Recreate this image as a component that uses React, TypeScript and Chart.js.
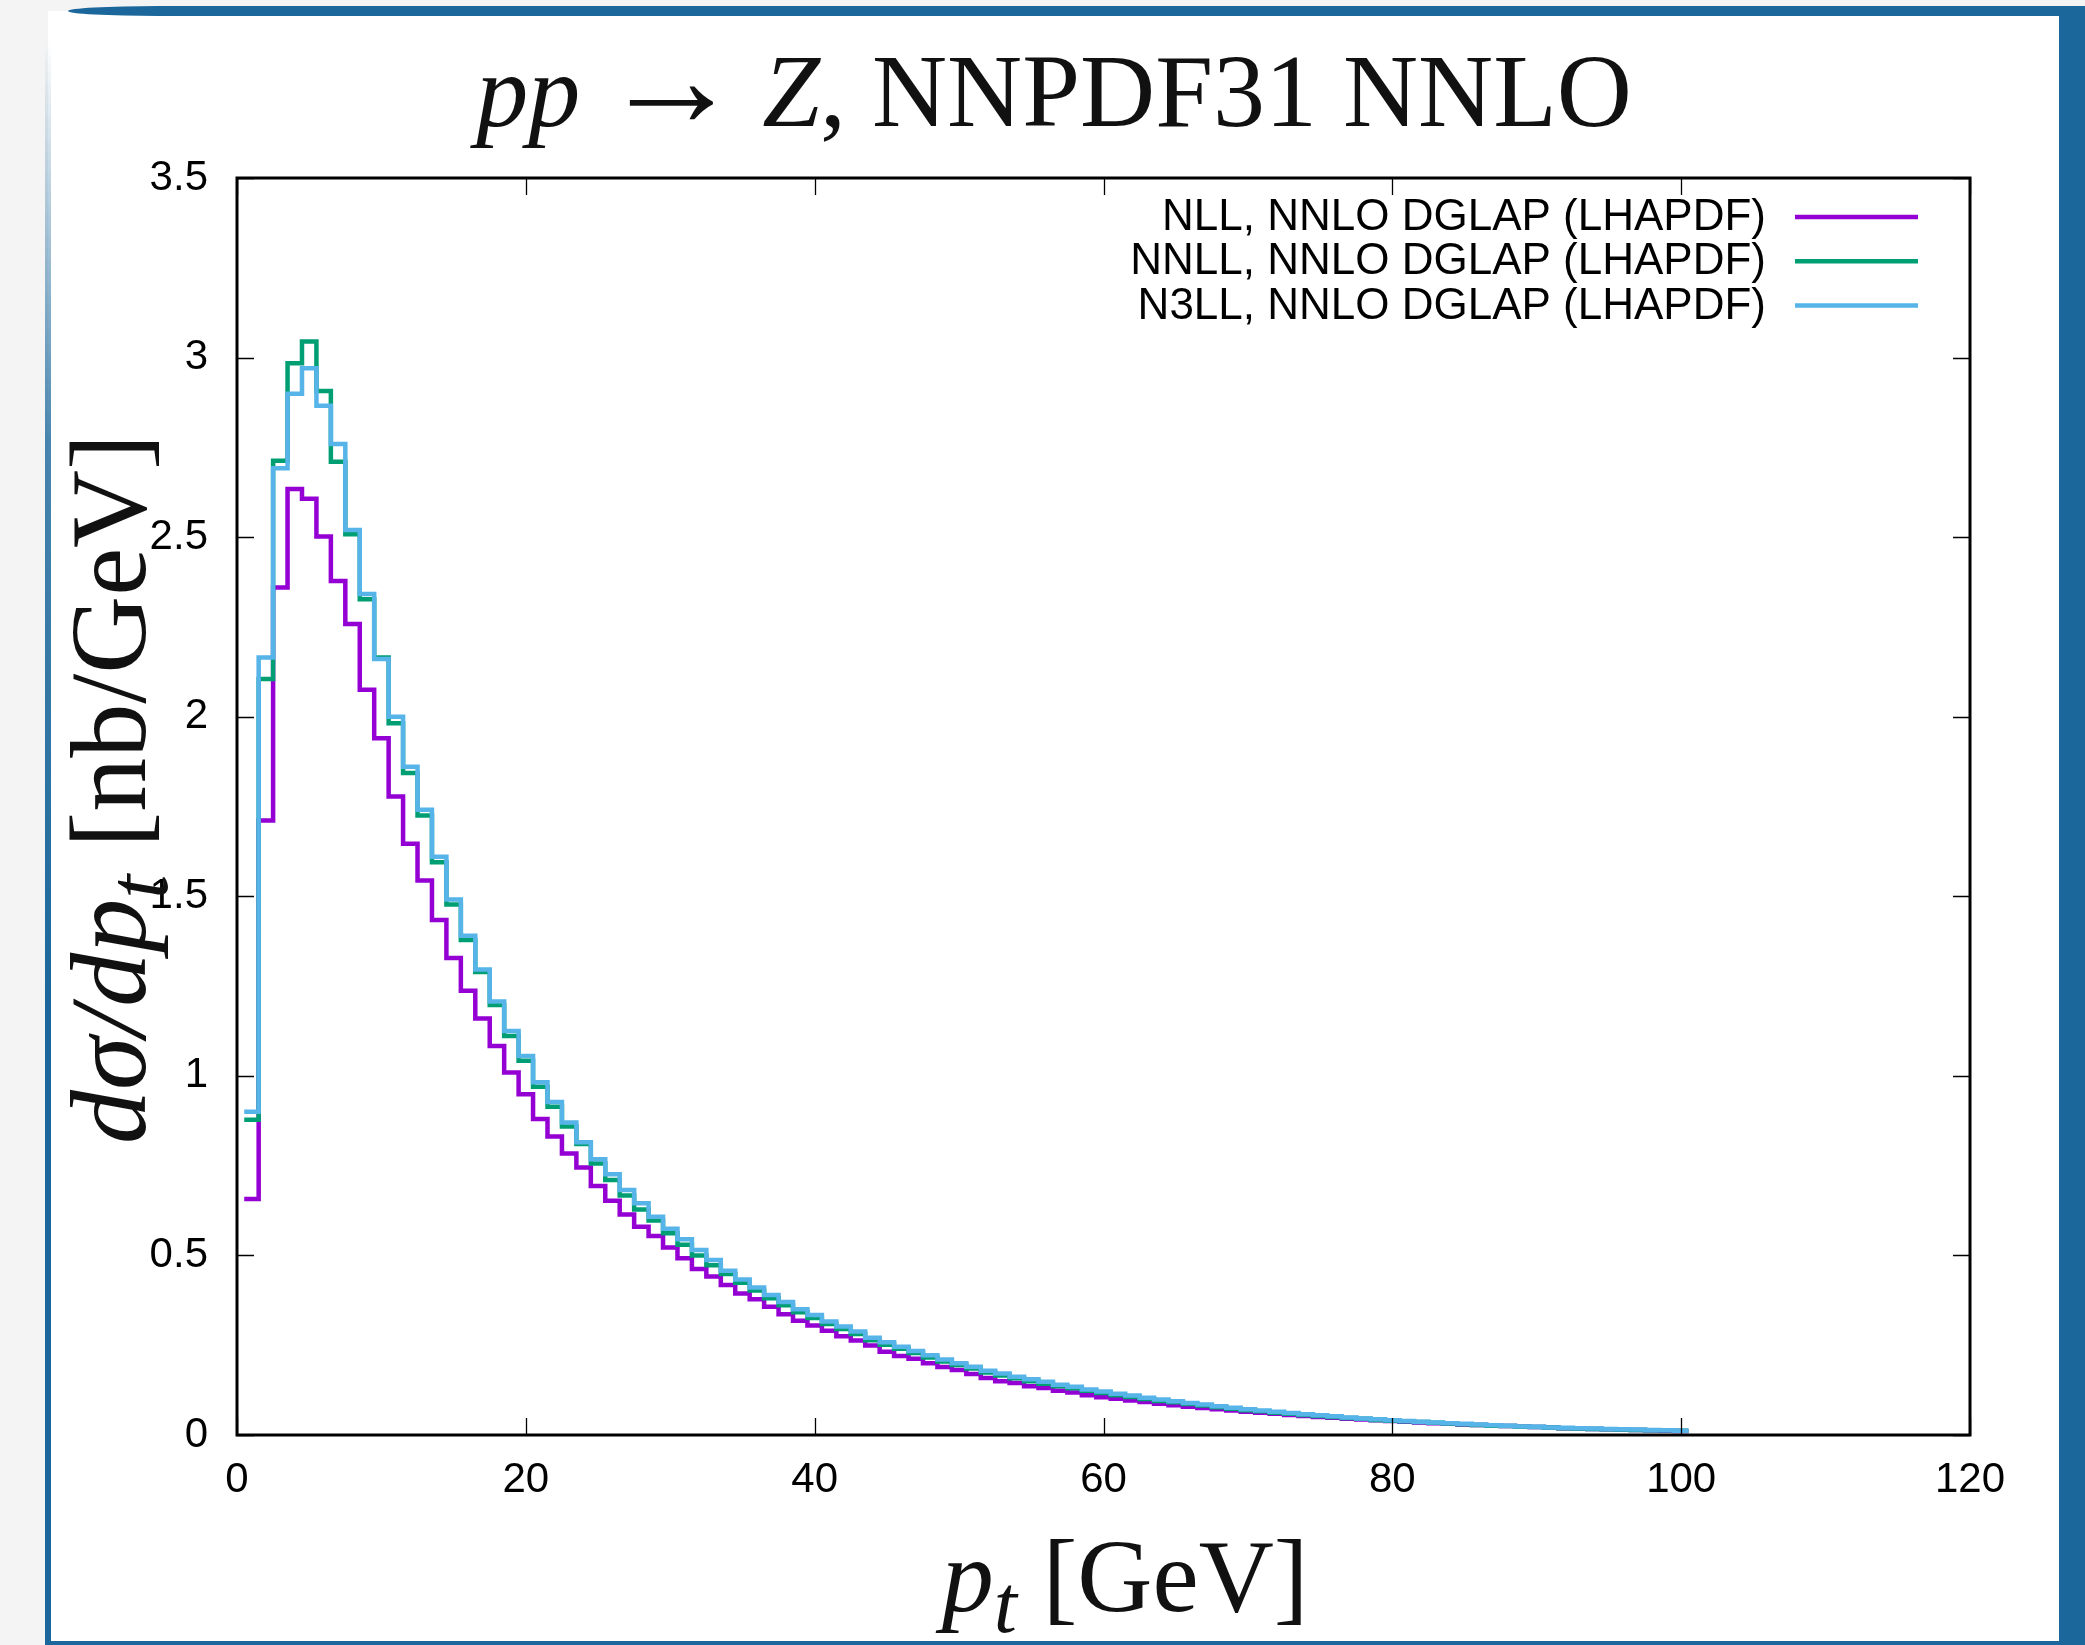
import React, { useEffect, useRef } from "react";
import { Chart, registerables } from "chart.js";

Chart.register(...registerables);

const W = 2085;
const H = 1645;

// p_t bin centres [GeV], bin width 1 GeV
const ptBins = [
  1, 2, 3, 4, 5, 6, 7, 8, 9, 10, 11, 12, 13, 14, 15, 16, 17, 18, 19, 20,
  21, 22, 23, 24, 25, 26, 27, 28, 29, 30, 31, 32, 33, 34, 35, 36, 37, 38, 39, 40,
  41, 42, 43, 44, 45, 46, 47, 48, 49, 50, 51, 52, 53, 54, 55, 56, 57, 58, 59, 60,
  61, 62, 63, 64, 65, 66, 67, 68, 69, 70, 71, 72, 73, 74, 75, 76, 77, 78, 79, 80,
  81, 82, 83, 84, 85, 86, 87, 88, 89, 90, 91, 92, 93, 94, 95, 96, 97, 98, 99, 100,
];
const binWidth = 1;

const nllValues = [
  0.657, 1.711, 2.36, 2.634, 2.607, 2.502, 2.378, 2.258, 2.075, 1.94,
  1.778, 1.646, 1.544, 1.434, 1.328, 1.237, 1.16, 1.083, 1.009, 0.949,
  0.88, 0.831, 0.784, 0.745, 0.693, 0.652, 0.614, 0.58, 0.554, 0.522,
  0.492, 0.462, 0.441, 0.418, 0.394, 0.378, 0.357, 0.336, 0.318, 0.305,
  0.29, 0.275, 0.263, 0.249, 0.232, 0.22, 0.212, 0.2, 0.189, 0.181,
  0.17, 0.159, 0.15, 0.145, 0.136, 0.131, 0.123, 0.118, 0.111, 0.105,
  0.101, 0.096, 0.092, 0.087, 0.083, 0.079, 0.075, 0.072, 0.068, 0.065,
  0.062, 0.059, 0.056, 0.053, 0.05, 0.048, 0.045, 0.043, 0.041, 0.039,
  0.037, 0.035, 0.033, 0.031, 0.029, 0.028, 0.026, 0.025, 0.023, 0.022,
  0.021, 0.019, 0.018, 0.017, 0.016, 0.015, 0.014, 0.013, 0.012, 0.011,
];

const nnllValues = [
  0.878, 2.105, 2.713, 2.984, 3.045, 2.907, 2.71, 2.508, 2.327, 2.165,
  1.982, 1.843, 1.725, 1.595, 1.477, 1.378, 1.289, 1.197, 1.111, 1.042,
  0.97, 0.914, 0.859, 0.81, 0.756, 0.71, 0.667, 0.628, 0.597, 0.562,
  0.53, 0.5, 0.473, 0.448, 0.424, 0.402, 0.381, 0.361, 0.342, 0.326,
  0.309, 0.295, 0.281, 0.264, 0.251, 0.24, 0.228, 0.216, 0.205, 0.195,
  0.185, 0.174, 0.166, 0.158, 0.15, 0.143, 0.136, 0.13, 0.123, 0.117,
  0.111, 0.106, 0.1, 0.095, 0.091, 0.086, 0.082, 0.077, 0.073, 0.069,
  0.066, 0.062, 0.059, 0.056, 0.053, 0.05, 0.047, 0.045, 0.042, 0.04,
  0.038, 0.036, 0.034, 0.032, 0.03, 0.028, 0.026, 0.025, 0.023, 0.022,
  0.021, 0.019, 0.018, 0.017, 0.016, 0.015, 0.014, 0.013, 0.013, 0.012,
];

const n3llValues = [
  0.9, 2.165, 2.692, 2.899, 2.97, 2.866, 2.759, 2.52, 2.342, 2.161,
  2.0, 1.861, 1.741, 1.61, 1.491, 1.39, 1.296, 1.207, 1.125, 1.055,
  0.982, 0.927, 0.87, 0.815, 0.768, 0.726, 0.682, 0.645, 0.608, 0.574,
  0.545, 0.515, 0.487, 0.457, 0.433, 0.411, 0.39, 0.37, 0.35, 0.334,
  0.316, 0.302, 0.288, 0.271, 0.258, 0.246, 0.234, 0.222, 0.21, 0.2,
  0.19, 0.179, 0.171, 0.162, 0.155, 0.148, 0.14, 0.134, 0.127, 0.121,
  0.115, 0.11, 0.104, 0.099, 0.094, 0.089, 0.085, 0.08, 0.076, 0.072,
  0.068, 0.065, 0.061, 0.058, 0.055, 0.052, 0.049, 0.046, 0.044, 0.041,
  0.039, 0.037, 0.035, 0.033, 0.031, 0.029, 0.027, 0.026, 0.024, 0.023,
  0.021, 0.02, 0.019, 0.018, 0.017, 0.016, 0.015, 0.014, 0.013, 0.012,
];

const seriesLabels = [
  "NLL, NNLO DGLAP (LHAPDF)",
  "NNLL, NNLO DGLAP (LHAPDF)",
  "N3LL, NNLO DGLAP (LHAPDF)",
];
const seriesColors = ["#9400d3", "#009e73", "#56b4e9"];
const seriesValues = [nllValues, nnllValues, n3llValues];

const xTicks = [0, 20, 40, 60, 80, 100, 120];
const yTicks = [0, 0.5, 1, 1.5, 2, 2.5, 3, 3.5];

const SERIF = "'Liberation Serif', 'Times New Roman', serif";
const SANS = "'Liberation Sans', Arial, Helvetica, sans-serif";

type Seg = { t: string; i?: boolean; sub?: boolean; scale?: number };

function toSteps(values: number[]) {
  const pts = ptBins.map((pt, k) => ({ x: pt - binWidth / 2, y: values[k] }));
  const last = ptBins.length - 1;
  pts.push({ x: ptBins[last] + binWidth / 2, y: values[last] });
  return pts;
}

function segFont(s: Seg, size: number) {
  const sz = (s.sub ? size * 0.8 : size) * (s.scale || 1);
  return `${s.i ? "italic " : ""}${sz}px ${SERIF}`;
}

function drawRich(ctx: CanvasRenderingContext2D, segs: Seg[], cx: number, baseY: number, size: number) {
  let total = 0;
  const widths = segs.map((s) => {
    ctx.font = segFont(s, size);
    const w = ctx.measureText(s.t).width;
    total += w;
    return w;
  });
  let x = cx - total / 2;
  ctx.textAlign = "left";
  ctx.textBaseline = "alphabetic";
  segs.forEach((s, k) => {
    ctx.font = segFont(s, size);
    ctx.fillText(s.t, x, baseY + (s.sub ? size * 0.2 : 0));
    x += widths[k];
  });
}

const decorPlugin = {
  id: "decor",
  afterDraw(chart: any) {
    const { ctx, chartArea: a, scales } = chart;
    const xs = scales.x;
    const ys = scales.y;
    ctx.save();
    // inward ticks, mirrored
    ctx.strokeStyle = "#000";
    ctx.lineWidth = 1.3;
    const TL = 17;
    ctx.beginPath();
    xTicks.forEach((t) => {
      const px = Math.round(xs.getPixelForValue(t)) + 0.5;
      ctx.moveTo(px, a.bottom);
      ctx.lineTo(px, a.bottom - TL);
      ctx.moveTo(px, a.top);
      ctx.lineTo(px, a.top + TL);
    });
    yTicks.forEach((t) => {
      const py = Math.round(ys.getPixelForValue(t)) + 0.5;
      ctx.moveTo(a.left, py);
      ctx.lineTo(a.left + TL, py);
      ctx.moveTo(a.right, py);
      ctx.lineTo(a.right - TL, py);
    });
    ctx.stroke();
    // frame
    ctx.lineWidth = 3;
    ctx.strokeRect(a.left, a.top, a.right - a.left, a.bottom - a.top);

    // legend
    ctx.font = `44px ${SANS}`;
    ctx.fillStyle = "#000";
    ctx.textAlign = "right";
    ctx.textBaseline = "middle";
    seriesLabels.forEach((lab, k) => {
      const yy = 217 + k * 44.3;
      ctx.fillText(lab, 1766, yy + 1);
      ctx.strokeStyle = seriesColors[k];
      ctx.lineWidth = 4.5;
      ctx.beginPath();
      ctx.moveTo(1795, yy);
      ctx.lineTo(1918, yy);
      ctx.stroke();
    });

    // title
    ctx.fillStyle = "#111";
    drawRich(
      ctx,
      [
        { t: "pp", i: true },
        { t: "\u2009" },
        { t: "\u2192", scale: 1.35 },
        { t: "\u2009" },
        { t: "Z", i: true },
        { t: ", NNPDF31 NNLO" },
      ],
      1054,
      126,
      104
    );
    // x label
    drawRich(
      ctx,
      [{ t: "p", i: true }, { t: "t", i: true, sub: true }, { t: " [GeV]" }],
      1125,
      1611,
      104
    );
    // y label
    ctx.save();
    ctx.translate(145, 789);
    ctx.rotate(-Math.PI / 2);
    drawRich(
      ctx,
      [{ t: "d\u03c3/dp", i: true }, { t: "t", i: true, sub: true }, { t: " [nb/GeV]" }],
      0,
      0,
      108
    );
    ctx.restore();
    ctx.restore();
  },
};

export default function App() {
  const ref = useRef<HTMLCanvasElement | null>(null);
  useEffect(() => {
    if (!ref.current) return;
    const order = [2, 1, 0];
    const chart = new Chart(ref.current, {
      type: "line",
      data: {
        datasets: seriesValues.map((vals, k) => ({
          label: seriesLabels[k],
          data: toSteps(vals),
          borderColor: seriesColors[k],
          backgroundColor: seriesColors[k],
          borderWidth: 4.5,
          pointRadius: 0,
          stepped: "before" as const,
          fill: false,
          order: order[k],
        })),
      },
      options: {
        responsive: false,
        animation: false,
        devicePixelRatio: 1,
        layout: { padding: { top: 178, right: 115, left: 0, bottom: 0 } },
        plugins: {
          legend: { display: false },
          title: { display: false },
          tooltip: { enabled: false },
        },
        scales: {
          x: {
            type: "linear",
            min: 0,
            max: 120,
            grid: { display: false, drawTicks: false },
            border: { display: false },
            ticks: {
              stepSize: 20,
              padding: 20,
              color: "#000",
              font: { family: SANS, size: 42 },
              maxRotation: 0,
              callback: (v: any) => String(v),
            },
            afterFit: (s: any) => {
              s.height = 210;
            },
          },
          y: {
            type: "linear",
            min: 0,
            max: 3.5,
            grid: { display: false, drawTicks: false },
            border: { display: false },
            ticks: {
              stepSize: 0.5,
              padding: 29,
              color: "#000",
              font: { family: SANS, size: 42 },
              callback: (v: any) => String(v),
            },
            afterFit: (s: any) => {
              s.width = 237;
            },
          },
        },
      },
      plugins: [decorPlugin],
    });
    return () => chart.destroy();
  }, []);

  const blue = "#1b679b";
  return (
    <div
      style={{
        position: "fixed",
        left: 0,
        top: 0,
        width: W,
        height: H,
        overflow: "hidden",
        background: "#f4f4f4",
      }}
    >
      {/* white slide panel */}
      <div
        style={{
          position: "absolute",
          left: 48,
          top: 11,
          width: 2060 - 48,
          height: H - 11,
          background: "#ffffff",
        }}
      />
      {/* top bar */}
      <div
        style={{
          position: "absolute",
          left: 68,
          top: 6,
          width: W - 68,
          height: 10,
          background: blue,
          borderTopLeftRadius: "90px 5px",
          borderBottomLeftRadius: "90px 5px",
        }}
      />
      {/* left edge */}
      <div
        style={{
          position: "absolute",
          left: 45,
          top: 40,
          width: 6,
          height: H - 40,
          background: `linear-gradient(to bottom, rgba(27,103,155,0) 0%, rgba(27,103,155,0.8) 25%, ${blue} 60%)`,
        }}
      />
      {/* right edge */}
      <div
        style={{
          position: "absolute",
          left: 2059,
          top: 6,
          width: W - 2059,
          height: H - 6,
          background: blue,
        }}
      />
      {/* bottom edge */}
      <div
        style={{
          position: "absolute",
          left: 45,
          top: H - 4,
          width: W - 45,
          height: 4,
          background: blue,
        }}
      />
      <canvas
        ref={ref}
        width={W}
        height={H}
        style={{ position: "absolute", left: 0, top: 0, width: W, height: H }}
      />
    </div>
  );
}
